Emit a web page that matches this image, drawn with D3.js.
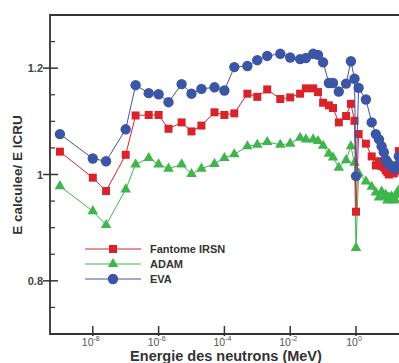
<!DOCTYPE html>
<html>
<head>
<meta charset="utf-8">
<script src="https://cdn.jsdelivr.net/npm/d3@7"></script>
<style>
  body { margin: 0; background: #fff; }
  svg { display: block; font-family: "Liberation Sans", Arial, sans-serif; }
</style>
</head>
<body>
<div id="chart"></div>
<script>
// energies in MeV (same grid for all three series)
const energies = [1e-9, 1e-8, 2.53e-8, 1e-7, 2e-7, 5e-7, 1e-6, 2e-6, 5e-6, 1e-5, 2e-5, 5e-5,
  1e-4, 2e-4, 5e-4, 1e-3, 2e-3, 5e-3, 0.01, 0.02, 0.03, 0.05, 0.07, 0.1, 0.15, 0.2, 0.3,
  0.5, 0.7, 0.9, 1.0, 1.2, 2, 3, 4, 5, 6, 7, 8, 9, 10, 12, 14, 15, 16, 18, 20];

const fantomeIRSN = [1.043, 0.994, 0.969, 1.037, 1.111, 1.112, 1.112, 1.086, 1.098, 1.081, 1.092, 1.117,
  1.112, 1.115, 1.152, 1.146, 1.160, 1.142, 1.145, 1.152, 1.162, 1.162, 1.155, 1.135, 1.130, 1.125, 1.098,
  1.110, 1.133, 1.101, 0.930, 1.076, 1.058, 1.034, 1.017, 1.025, 1.016, 1.013, 1.008, 1.004, 1.000, 1.006,
  1.002, 1.006, 1.009, 1.013, 1.044];

const adam = [0.978, 0.931, 0.905, 0.972, 1.019, 1.031, 1.019, 1.011, 1.019, 1.001, 1.011, 1.020,
  1.031, 1.038, 1.053, 1.056, 1.061, 1.056, 1.058, 1.069, 1.066, 1.066, 1.063, 1.054, 1.039, 1.032, 1.013,
  1.027, 1.053, 1.022, 0.862, 1.002, 0.987, 0.977, 0.966, 0.957, 0.968, 0.959, 0.962, 0.951, 0.957, 0.959,
  0.951, 0.953, 0.961, 0.966, 0.970];

const eva = [1.076, 1.030, 1.025, 1.085, 1.168, 1.153, 1.151, 1.136, 1.170, 1.152, 1.161, 1.164,
  1.158, 1.202, 1.204, 1.215, 1.223, 1.227, 1.220, 1.217, 1.219, 1.227, 1.225, 1.211, 1.172, 1.172, 1.156,
  1.171, 1.213, 1.180, 0.997, 1.163, 1.141, 1.098, 1.076, 1.066, 1.053, 1.042, 1.028, 1.023, 1.019, 1.015,
  1.013, 1.011, 1.015, 1.017, 1.034];

const xTickValues = [1e-8, 1e-6, 1e-4, 1e-2, 1];
const yMajorTicks = [0.8, 1.0, 1.2];
const yMinorTicks = [0.75, 0.85, 0.9, 0.95, 1.05, 1.1, 1.15, 1.25];

const seriesList = [
  {name: 'Fantome IRSN', values: fantomeIRSN, color: '#d9232b', symbol: d3.symbolSquare, size: 64},
  {name: 'ADAM', values: adam, color: '#3fb54c', symbol: d3.symbolTriangle, size: 48},
  {name: 'EVA', values: eva, color: '#3c56a6', symbol: d3.symbolCircle, size: 85}
];

const width = 399, height = 363;
const axisColor = '#333';

const svg = d3.select('#chart').append('svg')
  .attr('width', width)
  .attr('height', height);

const x = d3.scaleLog().domain([5e-10, 30]).range([50, 404.6]);
const y = d3.scaleLinear().domain([0.7, 1.3]).range([334, 15]);

// plot series (green under red under blue)
const drawOrder = [seriesList[1], seriesList[0], seriesList[2]];
const line = d3.line()
  .x((d, i) => x(energies[i]))
  .y(d => y(d));

drawOrder.forEach(s => {
  const g = svg.append('g');
  g.append('path')
    .datum(s.values)
    .attr('d', line)
    .attr('fill', 'none')
    .attr('stroke', s.color)
    .attr('stroke-width', 1);
  g.selectAll('path.mark')
    .data(s.values)
    .enter()
    .append('path')
    .attr('class', 'mark')
    .attr('d', d3.symbol().type(s.symbol).size(s.size))
    .attr('transform', (d, i) => 'translate(' + x(energies[i]) + ',' + y(d) + ')')
    .attr('fill', s.color);
});

// frame
svg.append('path')
  .attr('d', 'M' + x.range()[1] + ',' + y.range()[1] + 'H' + x.range()[0] + 'V' + y.range()[0] + 'H' + x.range()[1])
  .attr('fill', 'none')
  .attr('stroke', axisColor)
  .attr('stroke-width', 1.8);

// y ticks
svg.append('g').selectAll('line.major')
  .data(yMajorTicks)
  .enter().append('line')
  .attr('x1', 43).attr('x2', 58)
  .attr('y1', d => y(d)).attr('y2', d => y(d))
  .attr('stroke', axisColor).attr('stroke-width', 1.5);

svg.append('g').selectAll('line.minor')
  .data(yMinorTicks)
  .enter().append('line')
  .attr('x1', 50).attr('x2', 55)
  .attr('y1', d => y(d)).attr('y2', d => y(d))
  .attr('stroke', axisColor).attr('stroke-width', 1.2);

svg.append('g').selectAll('text')
  .data(yMajorTicks)
  .enter().append('text')
  .attr('x', 43)
  .attr('y', d => y(d) + 4)
  .attr('text-anchor', 'end')
  .attr('font-size', 11)
  .attr('font-weight', 'bold')
  .attr('fill', '#444')
  .text(d => d === 1 ? '1' : d3.format('.1f')(d));

// x ticks
svg.append('g').selectAll('line')
  .data(xTickValues)
  .enter().append('line')
  .attr('x1', d => x(d)).attr('x2', d => x(d))
  .attr('y1', 326).attr('y2', 336)
  .attr('stroke', axisColor).attr('stroke-width', 1.5);

const xLabels = svg.append('g').selectAll('text')
  .data(xTickValues)
  .enter().append('text')
  .attr('x', d => x(d) - 2)
  .attr('y', 346)
  .attr('text-anchor', 'middle')
  .attr('font-size', 10.5)
  .attr('fill', '#555');
xLabels.append('tspan').text('10');
xLabels.append('tspan')
  .attr('dy', -5)
  .attr('font-size', 7)
  .text(d => Math.round(Math.log10(d)));

// axis titles
svg.append('text')
  .attr('x', 226)
  .attr('y', 361)
  .attr('text-anchor', 'middle')
  .attr('font-size', 14.5)
  .attr('font-weight', 'bold')
  .attr('fill', '#333')
  .text('Energie des neutrons (MeV)');

svg.append('text')
  .attr('transform', 'translate(22,175) rotate(-90)')
  .attr('text-anchor', 'middle')
  .attr('font-size', 13.5)
  .attr('font-weight', 'bold')
  .attr('fill', '#333')
  .text('E calculee/ E ICRU');

// legend
const legend = svg.append('g').attr('transform', 'translate(85,249)');
seriesList.forEach((s, i) => {
  const row = legend.append('g').attr('transform', 'translate(0,' + (i * 15) + ')');
  row.append('line')
    .attr('x1', 0).attr('x2', 56)
    .attr('stroke', s.color).attr('stroke-width', 1);
  row.append('path')
    .attr('d', d3.symbol().type(s.symbol).size(s.size))
    .attr('transform', 'translate(28,0)')
    .attr('fill', s.color);
  row.append('text')
    .attr('x', 65)
    .attr('y', 4)
    .attr('font-size', 11)
    .attr('font-weight', 'bold')
    .attr('fill', '#333')
    .text(s.name);
});
</script>
</body>
</html>
